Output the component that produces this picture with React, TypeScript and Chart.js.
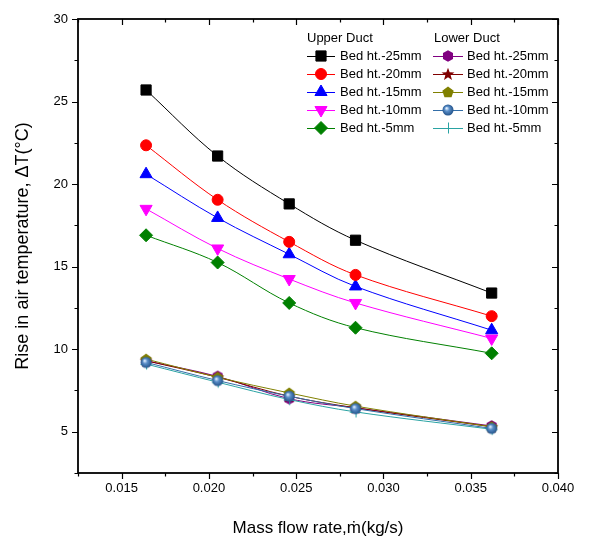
import React, { useEffect, useRef } from "react";
import { Chart, registerables } from "chart.js";
import { drawPoint } from "chart.js/helpers";

Chart.register(...registerables);

const massFlow = [0.0164, 0.0205, 0.0246, 0.0284, 0.0362];

const upper25 = [25.7, 21.7, 18.8, 16.6, 13.4];
const upper20 = [22.35, 19.05, 16.5, 14.5, 12.0];
const upper15 = [20.6, 17.95, 15.75, 13.8, 11.15];
const upper10 = [18.5, 16.1, 14.25, 12.8, 10.65];
const upper5 = [16.9, 15.25, 12.8, 11.3, 9.75];

const lower25 = [9.3, 8.35, 7.0, 6.45, 5.35];
const lower20 = [9.3, 8.3, 7.15, 6.45, 5.3];
const lower15 = [9.4, 8.3, 7.35, 6.55, 5.3];
const lower10 = [9.2, 8.1, 7.15, 6.4, 5.2];
const lower5 = [9.1, 8.0, 6.95, 6.2, 5.15];

const xTicks = [0.015, 0.02, 0.025, 0.03, 0.035, 0.04];
const yTicks = [5, 10, 15, 20, 25, 30];
const seriesLabels = ["Bed ht.-25mm", "Bed ht.-20mm", "Bed ht.-15mm", "Bed ht.-10mm", "Bed ht.-5mm"];

const FONT = "'Liberation Sans', Arial, sans-serif";

function makeMarker(kind: string): HTMLCanvasElement {
  const s = 14;
  const c = document.createElement("canvas");
  c.width = s;
  c.height = s;
  const ctx = c.getContext("2d")!;
  const cx = s / 2, cy = s / 2;
  ctx.beginPath();
  if (kind === "hex") {
    const r = 5.8;
    for (let i = 0; i < 6; i++) {
      const a = (Math.PI / 3) * i;
      const px = cx + r * Math.sin(a), py = cy - r * Math.cos(a);
      i === 0 ? ctx.moveTo(px, py) : ctx.lineTo(px, py);
    }
    ctx.closePath();
    ctx.fillStyle = "#800080";
    ctx.fill();
  } else if (kind === "star") {
    const R = 6.8, r = 2.8;
    for (let i = 0; i < 10; i++) {
      const a = (Math.PI / 5) * i;
      const rr = i % 2 === 0 ? R : r;
      const px = cx + rr * Math.sin(a), py = cy + 0.5 - rr * Math.cos(a);
      i === 0 ? ctx.moveTo(px, py) : ctx.lineTo(px, py);
    }
    ctx.closePath();
    ctx.fillStyle = "#800000";
    ctx.fill();
  } else if (kind === "pent") {
    const r = 6;
    for (let i = 0; i < 5; i++) {
      const a = ((2 * Math.PI) / 5) * i;
      const px = cx + r * Math.sin(a), py = cy + 0.5 - r * Math.cos(a);
      i === 0 ? ctx.moveTo(px, py) : ctx.lineTo(px, py);
    }
    ctx.closePath();
    ctx.fillStyle = "#808000";
    ctx.fill();
  } else if (kind === "ball") {
    const g = ctx.createRadialGradient(cx - 1.5, cy - 1.8, 0.5, cx, cy, 5.8);
    g.addColorStop(0, "#dfeeff");
    g.addColorStop(0.35, "#5b8fc9");
    g.addColorStop(1, "#1f4f86");
    ctx.arc(cx, cy, 5.5, 0, Math.PI * 2);
    ctx.fillStyle = g;
    ctx.fill();
  } else if (kind === "cross") {
    ctx.strokeStyle = "#2aa3a3";
    ctx.lineWidth = 1;
    ctx.moveTo(cx + 0.5, cy - 5.5);
    ctx.lineTo(cx + 0.5, cy + 5.5);
    ctx.moveTo(cx - 5.5, cy + 0.5);
    ctx.lineTo(cx + 5.5, cy + 0.5);
    ctx.stroke();
  }
  return c;
}

export default function App() {
  const ref = useRef<HTMLCanvasElement | null>(null);

  useEffect(() => {
    if (!ref.current) return;
    const hex = makeMarker("hex");
    const star = makeMarker("star");
    const pent = makeMarker("pent");
    const ball = makeMarker("ball");
    const cross = makeMarker("cross");

    const toPts = (ys: number[]) => ys.map((y, i) => ({ x: massFlow[i], y }));

    type Spec = { data: number[]; color: string; style: any; radius: number; rotation?: number; order: number };
    const upper: Spec[] = [
      { data: upper25, color: "#000000", style: "rect", radius: 7.2, order: 5 },
      { data: upper20, color: "#ff0000", style: "circle", radius: 5.5, order: 6 },
      { data: upper15, color: "#0000ff", style: "triangle", radius: 7, order: 7 },
      { data: upper10, color: "#ff00ff", style: "triangle", radius: 7, rotation: 180, order: 8 },
      { data: upper5, color: "#008000", style: "rectRot", radius: 6.5, order: 9 },
    ];
    const lower: Spec[] = [
      { data: lower25, color: "#800080", style: hex, radius: 6, order: 4 },
      { data: lower20, color: "#800000", style: star, radius: 6, order: 3 },
      { data: lower15, color: "#808000", style: pent, radius: 6, order: 2 },
      { data: lower10, color: "#336ea8", style: ball, radius: 6, order: 0 },
      { data: lower5, color: "#2aa3a3", style: cross, radius: 6, order: 1 },
    ];

    const mk = (s: Spec, label: string) => ({
      label,
      data: toPts(s.data),
      borderColor: s.color,
      backgroundColor: s.color,
      borderWidth: 1,
      pointStyle: s.style,
      pointRadius: s.radius,
      pointRotation: s.rotation || 0,
      pointBorderWidth: 1,
      pointBorderColor: s.color,
      pointBackgroundColor: s.color,
      tension: 0.35,
      order: s.order,
    });

    const datasets = [
      ...upper.map((s, i) => mk(s, "Upper " + seriesLabels[i])),
      ...lower.map((s, i) => mk(s, "Lower " + seriesLabels[i])),
    ];

    const framePlugin = {
      id: "frameTicks",
      afterDraw(chart: any) {
        const { ctx, chartArea: a, scales } = chart;
        const xs = scales.x, ys = scales.y;
        ctx.save();
        ctx.strokeStyle = "#000";
        ctx.lineWidth = 1.2;
        for (let v = 0.0125; v <= 0.04 + 1e-9; v += 0.0025) {
          const px = Math.round(xs.getPixelForValue(v)) + 0.5;
          const major = Math.abs(Math.round(v / 0.005) * 0.005 - v) < 1e-7;
          const len = major ? 6 : 3.5;
          ctx.beginPath();
          ctx.moveTo(px, a.bottom);
          ctx.lineTo(px, a.bottom + len);
          ctx.moveTo(px, a.top);
          ctx.lineTo(px, a.top + len);
          ctx.stroke();
        }
        for (let v = 2.5; v <= 30 + 1e-9; v += 2.5) {
          const py = Math.round(ys.getPixelForValue(v)) + 0.5;
          const major = Math.abs(v % 5) < 1e-7;
          const len = major ? 6 : 3.5;
          ctx.beginPath();
          ctx.moveTo(a.left, py);
          ctx.lineTo(a.left - len, py);
          ctx.moveTo(a.right, py);
          ctx.lineTo(a.right - len, py);
          ctx.stroke();
        }
        ctx.lineWidth = 1.8;
        ctx.strokeRect(a.left, a.top, a.right - a.left, a.bottom - a.top);

        // legend
        ctx.font = "13px " + FONT;
        ctx.fillStyle = "#000";
        ctx.textBaseline = "middle";
        ctx.textAlign = "left";
        ctx.fillText("Upper Duct", 307, 38);
        ctx.fillText("Lower Duct", 434, 38);
        const rows = [56, 74, 92, 110, 128];
        const cols = [
          { specs: upper, x0: 307, x1: 335, tx: 340 },
          { specs: lower, x0: 433, x1: 463, tx: 467 },
        ];
        cols.forEach((col) => {
          col.specs.forEach((s, i) => {
            const y = rows[i];
            ctx.strokeStyle = s.color;
            ctx.lineWidth = 1;
            ctx.beginPath();
            ctx.moveTo(col.x0, y + 0.5);
            ctx.lineTo(col.x1, y + 0.5);
            ctx.stroke();
            ctx.fillStyle = s.color;
            drawPoint(
              ctx,
              { pointStyle: s.style, radius: s.radius, rotation: s.rotation || 0, borderWidth: 1 } as any,
              (col.x0 + col.x1) / 2,
              y
            );
            ctx.fillStyle = "#000";
            ctx.fillText(seriesLabels[i], col.tx, y + 0.5);
          });
        });
        ctx.restore();
      },
    };

    const chart = new Chart(ref.current, {
      type: "line",
      data: { datasets: datasets as any },
      options: {
        animation: false,
        responsive: false,
        maintainAspectRatio: false,
        layout: { padding: { top: 19, right: 31, left: 0, bottom: 0 } },
        plugins: { legend: { display: false }, tooltip: { enabled: false } },
        scales: {
          x: {
            type: "linear",
            min: 0.0125,
            max: 0.04,
            afterBuildTicks: (s: any) => {
              s.ticks = xTicks.map((v) => ({ value: v }));
            },
            afterFit: (s: any) => {
              s.height = 72;
            },
            ticks: {
              color: "#000",
              font: { family: FONT, size: 13 },
              padding: 8,
              maxRotation: 0,
              callback: (v: any) => Number(v).toFixed(3),
            },
            grid: { display: false, drawTicks: false },
            border: { display: false },
            title: {
              display: true,
              text: "Mass flow rate,\u1E41(kg/s)",
              color: "#000",
              font: { family: FONT, size: 17 },
              padding: { top: 0, bottom: 6 },
            },
          },
          y: {
            type: "linear",
            min: 2.5,
            max: 30,
            afterBuildTicks: (s: any) => {
              s.ticks = yTicks.map((v) => ({ value: v }));
            },
            afterFit: (s: any) => {
              s.width = 78;
            },
            ticks: {
              color: "#000",
              font: { family: FONT, size: 13 },
              padding: 10,
              callback: (v: any) => String(v),
            },
            grid: { display: false, drawTicks: false },
            border: { display: false },
            title: {
              display: true,
              text: "Rise in air temperature, \u0394T(\u00B0C)",
              color: "#000",
              font: { family: FONT, size: 18 },
              padding: { top: 12, bottom: 0 },
            },
          },
        },
      },
      plugins: [framePlugin],
    });
    return () => chart.destroy();
  }, []);

  return (
    <div style={{ position: "absolute", left: 0, top: 0, width: 589, height: 545, background: "#fff" }}>
      <canvas ref={ref} width={589} height={545} style={{ width: 589, height: 545 }} />
    </div>
  );
}
